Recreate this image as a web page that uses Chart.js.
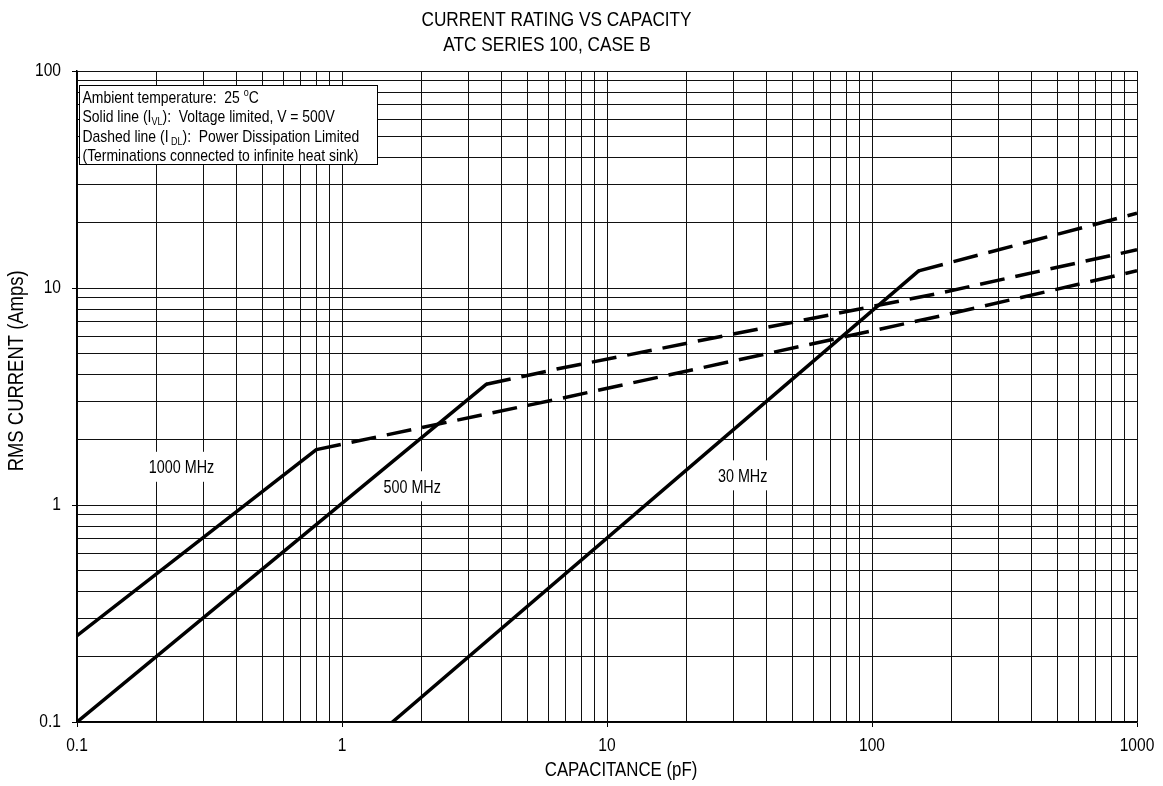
<!DOCTYPE html>
<html>
<head>
<meta charset="utf-8">
<script src="https://cdn.jsdelivr.net/npm/chart.js@4.4.1/dist/chart.umd.min.js"></script>
<style>
html,body{margin:0;padding:0;background:#fff;}
#wrap{width:1163px;height:786px;}
</style>
</head>
<body>
<div id="wrap"><canvas id="c" width="1163" height="786"></canvas></div>
<script>
// ---------- data ----------
const cap1000Solid = [0.1, 0.8];
const cur1000Solid = [0.25, 1.8];
const cap1000Dash  = [0.8, 6.46, 183, 1000];
const cur1000Dash  = [1.8, 3.07, 7.45, 12.0];

const cap500Solid = [0.1, 3.5];
const cur500Solid = [0.1, 3.6];
const cap500Dash  = [3.5, 6.46, 183, 1000];
const cur500Dash  = [3.6, 4.23, 9.51, 15.0];

const cap30Solid = [1.55, 150];
const cur30Solid = [0.1, 12.0];
const cap30Dash  = [150, 1000];
const cur30Dash  = [12.0, 22.1];

const xTickValues = [0.1,0.2,0.3,0.4,0.5,0.6,0.7,0.8,0.9,
                     1,2,3,4,5,6,7,8,9,
                     10,20,30,40,50,60,70,80,90,
                     100,200,300,400,500,600,700,800,900,1000];
const xMajorValues = [0.1, 1, 10, 100, 1000];
const xTickLabels  = ['0.1', '1', '10', '100', '1000'];

const yTickValues = [0.1,0.2,0.3,0.4,0.5,0.6,0.7,0.8,0.9,
                     1,2,3,4,5,6,7,8,9,
                     10,20,30,40,50,60,70,80,90,100];
const yMajorValues = [0.1, 1, 10, 100];
const yTickLabels  = ['0.1', '1', '10', '100'];

const curveLabels   = ['1000 MHz', '500 MHz', '30 MHz'];
const curveLabelCap = [0.248, 1.84, 32.5];
const curveLabelCur = [1.5, 1.22, 1.37];

const titleLines = ['CURRENT RATING VS CAPACITY', 'ATC SERIES 100, CASE B'];
const xTitle = 'CAPACITANCE (pF)';
const yTitle = 'RMS CURRENT (Amps)';

const noteLines = [
  [['Ambient temperature:  25 ', ''], ['o', 'sup'], ['C', '']],
  [['Solid line (I', ''], ['VL', 'sub'], ['):  Voltage limited, V = 500V', '']],
  [['Dashed line (I', ''], [' DL', 'sub'], ['):  Power Dissipation Limited', '']],
  [['(Terminations connected to infinite heat sink)', '']]
];

// ---------- narrow-font emulation (Helvetica Narrow look) ----------
(function () {
  const P = CanvasRenderingContext2D.prototype;
  const SX = 0.82;
  const origFill = P.fillText, origMeasure = P.measureText;
  const isNarrow = (c) => String(c.font).indexOf('Arial Narrow') >= 0;
  P.fillText = function (t, x, y, mw) {
    if (!isNarrow(this)) return origFill.apply(this, arguments);
    this.save();
    this.translate(x, y);
    this.scale(SX, 1);
    if (mw !== undefined && mw !== null) origFill.call(this, t, 0, 0, mw / SX);
    else origFill.call(this, t, 0, 0);
    this.restore();
  };
  P.measureText = function (t) {
    const m = origMeasure.call(this, t);
    if (!isNarrow(this)) return m;
    return {
      width: m.width * SX,
      actualBoundingBoxLeft: m.actualBoundingBoxLeft * SX,
      actualBoundingBoxRight: m.actualBoundingBoxRight * SX,
      actualBoundingBoxAscent: m.actualBoundingBoxAscent,
      actualBoundingBoxDescent: m.actualBoundingBoxDescent,
      fontBoundingBoxAscent: m.fontBoundingBoxAscent,
      fontBoundingBoxDescent: m.fontBoundingBoxDescent
    };
  };
})();

// ---------- styling ----------
const FONT = '"Arial Narrow", "Liberation Sans", Arial, sans-serif';
const NB = '\u00A0';

function pts(cs, vs) { return cs.map((c, i) => ({x: c, y: vs[i]})); }
function series(label, cs, vs, dashed) {
  return {
    label: label,
    data: pts(cs, vs),
    borderColor: '#000',
    backgroundColor: '#000',
    borderWidth: 3.5,
    borderDash: dashed ? [25, 11] : [],
    borderCapStyle: dashed ? 'butt' : 'round',
    borderJoinStyle: 'round',
    pointRadius: 0,
    fill: false,
    tension: 0,
    clip: 0
  };
}
function isIn(list, v) { return list.some(m => Math.abs(m - v) < 1e-9 * Math.max(1, m)); }
function labelFor(majors, labels, v) {
  const i = majors.findIndex(m => Math.abs(m - v) < 1e-9 * Math.max(1, m));
  return i >= 0 ? labels[i] : '';
}

const notesPlugin = {
  id: 'notes',
  beforeDatasetsDraw(chart) {
    const {ctx, chartArea, scales} = chart;
    const xs = scales.x, ys = scales.y;
    ctx.save();
    // curve labels with white background
    ctx.font = '17.5px ' + FONT;
    ctx.textAlign = 'center';
    ctx.textBaseline = 'alphabetic';
    curveLabels.forEach((t, i) => {
      const px = xs.getPixelForValue(curveLabelCap[i]);
      const py = ys.getPixelForValue(curveLabelCur[i]);
      const w = ctx.measureText(t).width + 6;
      ctx.fillStyle = '#fff';
      ctx.fillRect(px - w / 2, py - 15, w, 30);
      ctx.fillStyle = '#000';
      ctx.fillText(t, px, py + 6.3);
    });
    // notes box
    const bx = chartArea.left + 2, by = chartArea.top + 14, bw = 299, bh = 80;
    ctx.fillStyle = '#fff';
    ctx.fillRect(bx, by, bw, bh);
    ctx.strokeStyle = '#000';
    ctx.lineWidth = 1;
    ctx.strokeRect(bx + 0.5, by + 0.5, bw - 1, bh - 1);
    ctx.textAlign = 'left';
    ctx.fillStyle = '#000';
    const baselines = [by + 18, by + 37.3, by + 56.6, by + 76];
    noteLines.forEach((segs, li) => {
      let cx = bx + 3.5;
      segs.forEach(([txt, kind]) => {
        let dy = 0;
        if (kind === 'sub') { ctx.font = '11px ' + FONT; dy = 3; }
        else if (kind === 'sup') { ctx.font = '11px ' + FONT; dy = -7; }
        else { ctx.font = '17px ' + FONT; }
        ctx.fillText(txt, cx, baselines[li] + dy);
        cx += ctx.measureText(txt).width;
      });
    });
    ctx.restore();
  }
};

const gridColor = '#111';

new Chart(document.getElementById('c'), {
  type: 'line',
  data: {
    datasets: [
      series('1000 MHz I(VL)', cap1000Solid, cur1000Solid, false),
      series('1000 MHz I(DL)', cap1000Dash, cur1000Dash, true),
      series('500 MHz I(VL)', cap500Solid, cur500Solid, false),
      series('500 MHz I(DL)', cap500Dash, cur500Dash, true),
      series('30 MHz I(VL)', cap30Solid, cur30Solid, false),
      series('30 MHz I(DL)', cap30Dash, cur30Dash, true)
    ]
  },
  options: {
    responsive: false,
    animation: false,
    events: [],
    devicePixelRatio: 1,
    layout: { padding: { left: 0, right: 26, top: 0, bottom: 0 } },
    plugins: {
      legend: { display: false },
      tooltip: { enabled: false },
      title: {
        display: true,
        text: [titleLines[0] + NB.repeat(5), titleLines[1] + NB.repeat(9)],
        color: '#000',
        font: { family: FONT, size: 21, weight: 'normal', lineHeight: '25px' },
        padding: { top: 8, bottom: 13 }
      }
    },
    scales: {
      x: {
        type: 'logarithmic',
        min: 0.1, max: 1000,
        afterBuildTicks: (s) => { s.ticks = xTickValues.map(v => ({value: v, major: isIn(xMajorValues, v)})); },
        afterFit: (s) => { s.height = 64; },
        ticks: {
          autoSkip: false, maxRotation: 0, minRotation: 0,
          color: '#000', padding: 7,
          font: { family: FONT, size: 19 },
          callback: (v) => labelFor(xMajorValues, xTickLabels, v)
        },
        grid: {
          color: gridColor, lineWidth: 1, drawTicks: true, tickLength: 5,
          tickColor: (c) => (c.tick && isIn(xMajorValues, c.tick.value)) ? '#000' : 'rgba(0,0,0,0)'
        },
        border: { display: true, color: '#000', width: 1.5 },
        title: {
          display: true, text: NB.repeat(6) + xTitle, color: '#000',
          font: { family: FONT, size: 20.5 }, padding: { top: 0, bottom: 3 }
        }
      },
      y: {
        type: 'logarithmic',
        min: 0.1, max: 100,
        afterBuildTicks: (s) => { s.ticks = yTickValues.map(v => ({value: v, major: isIn(yMajorValues, v)})); },
        afterFit: (s) => { s.width = 77; },
        ticks: {
          autoSkip: false, color: '#000', padding: 11,
          font: { family: FONT, size: 19 },
          callback: (v) => labelFor(yMajorValues, yTickLabels, v)
        },
        grid: {
          color: gridColor, lineWidth: 1, drawTicks: true, tickLength: 5,
          tickColor: (c) => (c.tick && isIn(yMajorValues, c.tick.value)) ? '#000' : 'rgba(0,0,0,0)'
        },
        border: { display: true, color: '#000', width: 1.5 },
        title: {
          display: true, text: NB.repeat(10) + yTitle, color: '#000',
          font: { family: FONT, size: 22.5 }, padding: { top: 3, bottom: 0 }
        }
      }
    }
  },
  plugins: [notesPlugin]
});
</script>
</body>
</html>
